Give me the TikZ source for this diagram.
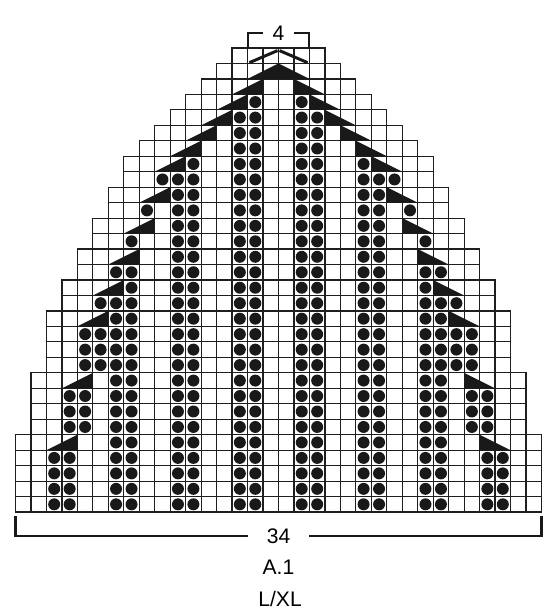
\documentclass[tikz,border=0pt]{standalone}
\usepackage{fontspec}
\setmainfont{Liberation Sans}

\tikzset{
  gridcell/.style={draw=black!88, line width=0.9pt},
  stitchdot/.style={fill=black!90},
  decrease/.style={fill=black!90},
  bracket/.style={line width=1.5pt, black!90},
  chartlabel/.style={font=\fontsize{15.5}{18}\selectfont, inner sep=1pt}
}

\begin{document}
\begin{tikzpicture}[x=4mm,y=4mm]
  \useasboundingbox (-1.003,-6.59) rectangle (34.57,33.10);

  % Draw grid row by row (row/first column)
  \foreach \r/\s in {0/0,1/0,2/0,3/0,4/0,5/1,6/1,7/1,8/1,9/2,10/2,11/2,12/2,
                     13/3,14/3,15/4,16/4,17/5,18/5,19/6,20/6,21/7,22/7,
                     23/8,24/9,25/10,26/11,27/12,28/13,29/14} {
    \pgfmathtruncatemacro{\e}{33-\s}
    \foreach \c in {\s,...,\e}
      \draw[gridcell] (\c,\r) rectangle ++(1,1);
  }

  % Dots, left half given, right half mirrored
  \foreach \r/\cols in {0/{2,3,6,7,10,11,14,15},1/{2,3,6,7,10,11,14,15},
                        2/{2,3,6,7,10,11,14,15},3/{2,3,6,7,10,11,14,15},
                        4/{6,7,10,11,14,15},
                        5/{3,4,6,7,10,11,14,15},6/{3,4,6,7,10,11,14,15},
                        7/{3,4,6,7,10,11,14,15},8/{6,7,10,11,14,15},
                        9/{4,5,6,7,10,11,14,15},10/{4,5,6,7,10,11,14,15},
                        11/{4,5,6,7,10,11,14,15},12/{6,7,10,11,14,15},
                        13/{5,6,7,10,11,14,15},14/{7,10,11,14,15},
                        15/{6,7,10,11,14,15},16/{10,11,14,15},
                        17/{7,10,11,14,15},18/{10,11,14,15},
                        19/{8,10,11,14,15},20/{10,11,14,15},
                        21/{9,10,11,14,15},22/{11,14,15},
                        23/{14,15},24/{14,15},25/{14,15},26/{15}} {
    \foreach \c in \cols {
      \fill[stitchdot] (\c+0.5,\r+0.5) circle[radius=1.55mm];
      \fill[stitchdot] (33.5-\c,\r+0.5) circle[radius=1.55mm];
    }
  }

  % Decreases (row/first column on the left)
  \foreach \r/\t in {4/2,8/3,12/4,14/5,16/6,18/7,20/8,22/9,23/10,24/11,
                     25/12,26/13,27/14} {
    \fill[decrease] (\t,\r) -- (\t+2,\r) -- (\t+2,\r+1) -- cycle;
    \fill[decrease] (34-\t,\r) -- (32-\t,\r) -- (32-\t,\r+1) -- cycle;
  }
  \fill[decrease] (15,28) -- (17,29) -- (19,28) -- cycle;
  \draw[line width=2.2pt, black!90] (15.12,29.05) -- (16.94,29.83);
  \draw[line width=2.2pt, black!90] (17.06,29.83) -- (18.88,29.05);

  % Brackets and labels
  \node[chartlabel] (top4) at (17,30.95) {4};
  \draw[bracket] (16,30.95) -| (15,30);
  \draw[bracket] (18,30.95) -| (19,30);

  \node[chartlabel] (width34) at (17,-1.57) {34};
  \draw[bracket] (15,-1.57) -| (0,-0.28);
  \draw[bracket] (19,-1.57) -| (34,-0.28);

  \node[chartlabel] (chartname) at (17,-3.57) {A.1};
  \node[chartlabel] (chartsize) at (17.1,-5.63) {L/XL};
\end{tikzpicture}
\end{document}
